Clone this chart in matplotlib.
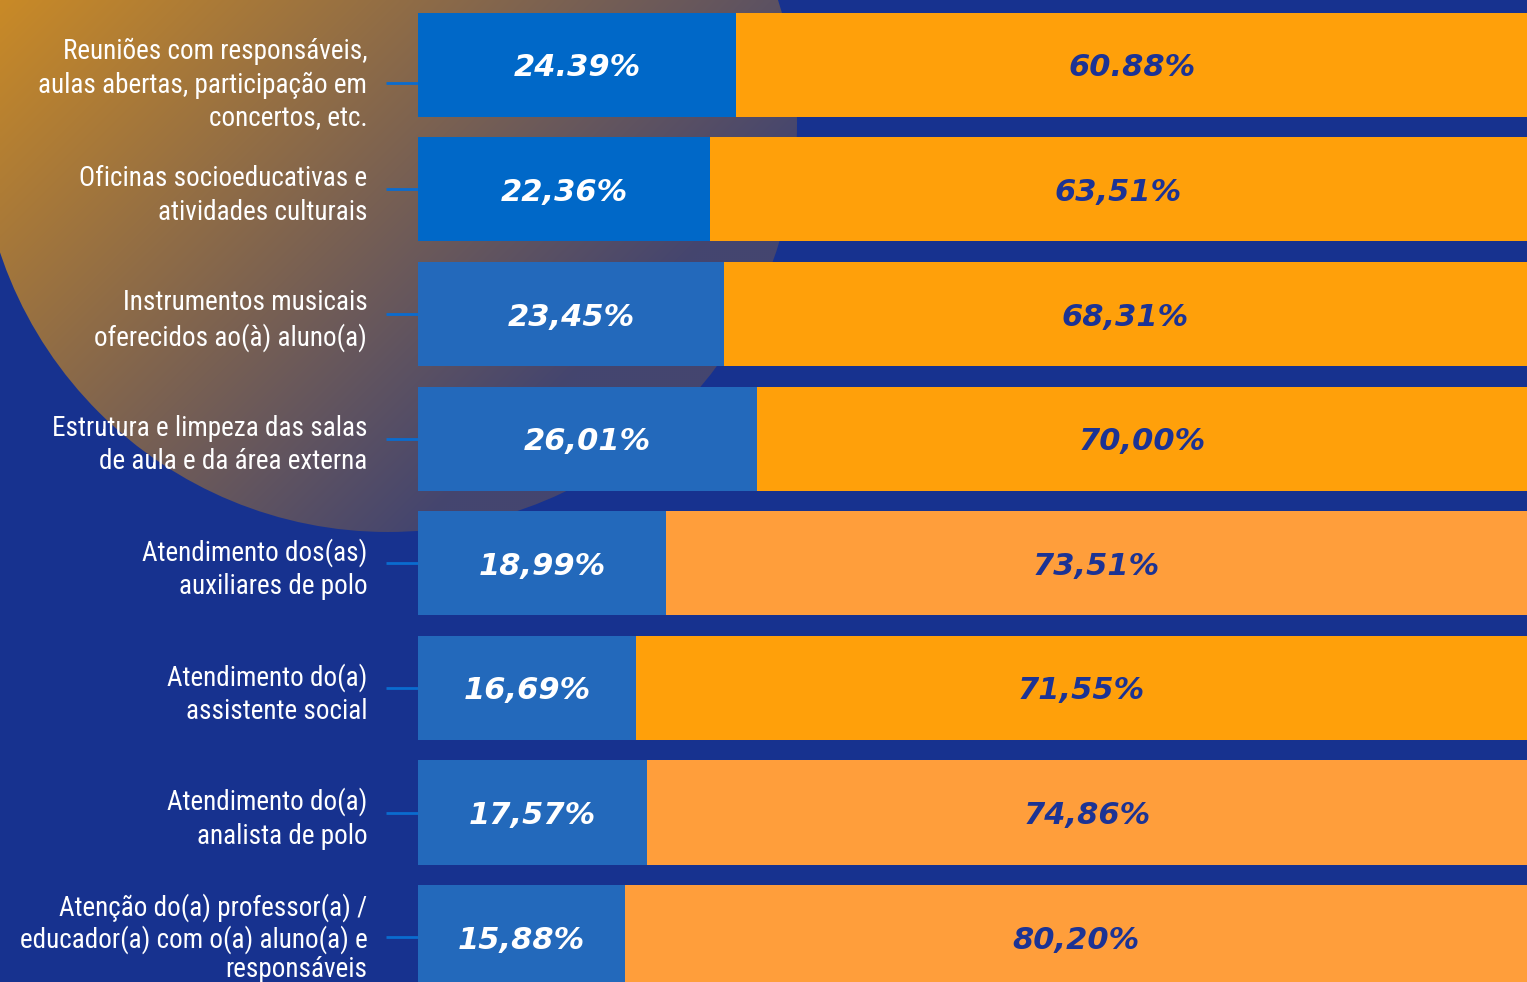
import matplotlib
matplotlib.use('Agg')
import matplotlib.pyplot as plt
from matplotlib import font_manager as fm
from matplotlib.patches import Circle
from matplotlib.colors import to_rgb
from matplotlib.transforms import ScaledTranslation
import numpy as np

# data
categories = [
    'Reuniões com responsáveis,\naulas abertas, participação em\nconcertos, etc.',
    'Oficinas socioeducativas e\natividades culturais',
    'Instrumentos musicais\noferecidos ao(à) aluno(a)',
    'Estrutura e limpeza das salas\nde aula e da área externa',
    'Atendimento dos(as)\nauxiliares de polo',
    'Atendimento do(a)\nassistente social',
    'Atendimento do(a)\nanalista de polo',
    'Atenção do(a) professor(a) /\neducador(a) com o(a) aluno(a) e\nresponsáveis',
]
blue_vals = [24.39, 22.36, 23.45, 26.01, 18.99, 16.69, 17.57, 15.88]
orange_vals = [60.88, 63.51, 68.31, 70.00, 73.51, 71.55, 74.86, 80.20]
blue_labels = ['24.39%', '22,36%', '23,45%', '26,01%', '18,99%', '16,69%', '17,57%', '15,88%']
orange_labels = ['60.88%', '63,51%', '68,31%', '70,00%', '73,51%', '71,55%', '74,86%', '80,20%']

navy = '#17328f'
blue_cols = ['#0068c8', '#0068c8', '#2369bb', '#2369bb', '#2369bb', '#2369bb', '#2369bb', '#2369bb']
orange_cols = ['#ffa00a', '#ffa00a', '#ffa00a', '#ffa00a', '#ff9e3b', '#ffa00a', '#ff9e3b', '#ff9e3b']

# pick a narrow font for the category labels
names = set(f.name for f in fm.fontManager.ttflist)
label_font = None
label_stretch = 'normal'
label_size = 19.5
for cand in ['Roboto Condensed', 'Liberation Sans Narrow', 'Noto Sans Condensed',
             'Open Sans Condensed', 'DejaVu Sans Condensed', 'Arial Narrow']:
    if cand in names:
        label_font = cand
        break
if label_font is None:
    for f in fm.fontManager.ttflist:
        if f.name in ('Roboto', 'Noto Sans', 'Open Sans', 'DejaVu Sans') and \
                ('Condensed' in f.fname or str(f.stretch) in ('condensed', 'semi-condensed')):
            label_font = f.name
            label_stretch = 'condensed'
            break
if label_font is None:
    label_font = 'DejaVu Sans'
    label_size = 15

W, H = 1527, 982
fig = plt.figure(figsize=(W / 100, H / 100), dpi=100)
fig.patch.set_facecolor(navy)

# background with the gradient circle
bg = fig.add_axes([0, 0, 1, 1])
bg.axis('off')
xs = np.linspace(0, 820, 410)
ys = np.linspace(0, 560, 280)
X, Y = np.meshgrid(xs, ys)
t = np.clip((X + Y) / 950, 0, 1)[..., None]
c0 = np.array(to_rgb('#c98a27'))
c1 = np.array(to_rgb('#44456f'))
img = c0 * (1 - t) + c1 * t
im = bg.imshow(img, extent=(0, 820, 560, 0), interpolation='bilinear', zorder=0)
circ = Circle((388, 123), 409, transform=bg.transData)
im.set_clip_path(circ)
bg.set_xlim(0, W)
bg.set_ylim(H, 0)

# main chart
xmax = 85.0
ax = fig.add_axes([418 / W, 0, (W - 418) / W, 1])
ax.patch.set_alpha(0)
y = np.arange(len(categories))
ax.barh(y, blue_vals, height=0.835, color=blue_cols, zorder=2)
ax.barh(y, orange_vals, left=blue_vals, height=0.835, color=orange_cols, zorder=2)
ax.set_xlim(0, xmax)
ax.set_ylim(7.36, -0.52)

for i in range(len(categories)):
    ax.text(blue_vals[i] / 2, i, blue_labels[i], ha='center', va='center_baseline',
            color='white', fontsize=22, fontweight='heavy', style='italic',
            family='DejaVu Sans', zorder=3)
    ax.text((blue_vals[i] + xmax) / 2, i, orange_labels[i], ha='center', va='center_baseline',
            color='#1c3394', fontsize=22, fontweight='heavy', style='italic',
            family='DejaVu Sans', zorder=3)

ax.set_yticks(y)
ax.set_yticklabels(categories, family=[label_font, 'DejaVu Sans'], fontstretch=label_stretch,
                   fontsize=label_size, color='white')
ax.tick_params(axis='y', length=23, width=2, color='#0a6ccf', pad=13.5)
for lbl in ax.get_yticklabels():
    lbl.set_multialignment('right')
    lbl.set_linespacing(1.3)
ax.set_xticks([])
for s in ax.spines.values():
    s.set_visible(False)

# first label sits a little lower than its bar in the original
ticks = ax.yaxis.get_major_ticks()
tk = ticks[0]
tk.label1.set_transform(tk.label1.get_transform() + ScaledTranslation(0, -0.14, fig.dpi_scale_trans))
tk.tick1line.set_transform(tk.tick1line.get_transform() + ScaledTranslation(0, -0.18, fig.dpi_scale_trans))
# last label is squeezed against the bottom edge
tk = ticks[-1]
tk.label1.set_linespacing(1.12)
tk.label1.set_transform(tk.label1.get_transform() + ScaledTranslation(0, 0.03, fig.dpi_scale_trans))

fig.savefig('out.png', dpi=100, facecolor=fig.get_facecolor())
